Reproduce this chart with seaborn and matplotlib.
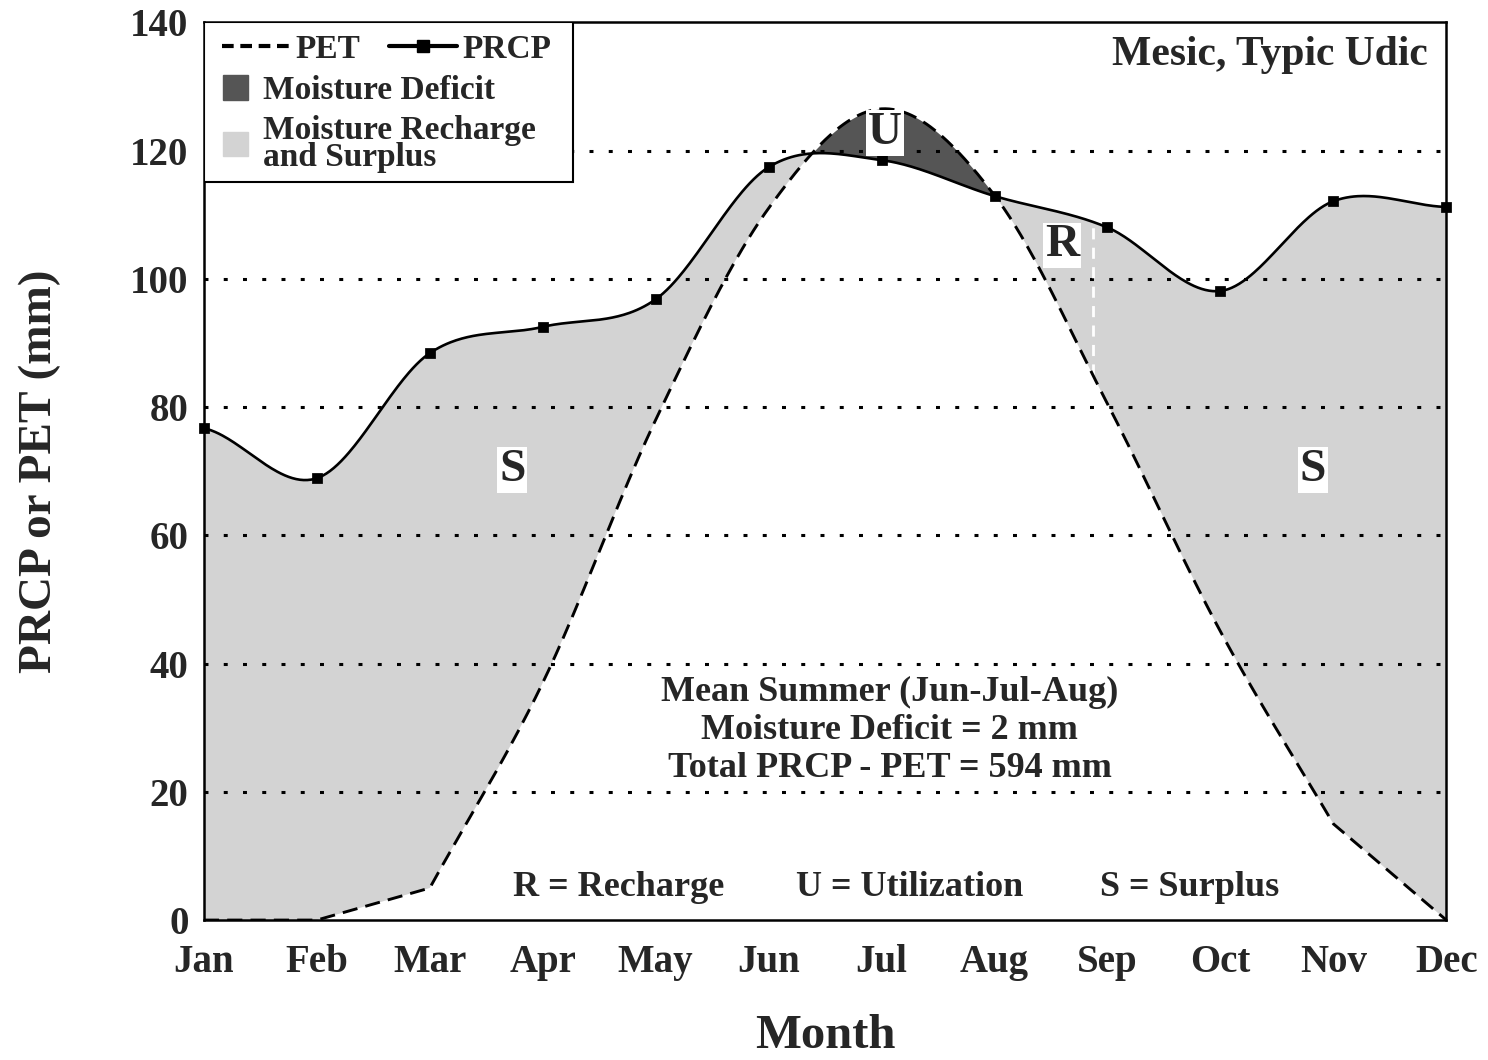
import numpy as np
import pandas as pd
import matplotlib
matplotlib.use("Agg")
import matplotlib.pyplot as plt
from matplotlib.lines import Line2D
from matplotlib.patches import Patch, Rectangle
import seaborn as sns

months = ["Jan", "Feb", "Mar", "Apr", "May", "Jun", "Jul", "Aug", "Sep", "Oct", "Nov", "Dec"]
prcp = [76.7, 68.9, 88.4, 92.5, 96.8, 117.4, 118.5, 112.9, 108.0, 98.1, 112.1, 111.2]
pet = [0.0, 0.0, 5.0, 37.0, 78.0, 111.0, 126.5, 113.0, 80.5, 45.0, 15.0, 0.0]
recharge_end = 7.87  # month position where recharge turns to surplus
y_ticks = [0, 20, 40, 60, 80, 100, 120, 140]


def smooth(vals, kinks=(), n=60):
    # Hermite curve through the monthly values, Catmull-Rom tangents,
    # one-sided tangents at the "kink" points and at both ends
    v = np.asarray(vals, dtype=float)
    d = np.diff(v)
    k = len(v)
    left = np.zeros(k)
    right = np.zeros(k)
    for i in range(k):
        if i == 0:
            left[i] = right[i] = d[0] if 0 in kinks else d[0] / 2
        elif i == k - 1:
            left[i] = right[i] = d[-1] if i in kinks else d[-1] / 2
        elif i in kinks:
            left[i], right[i] = d[i - 1], d[i]
        else:
            left[i] = right[i] = 0.5 * (d[i - 1] + d[i])
    xs, ys = [], []
    t = np.linspace(0, 1, n, endpoint=False)
    h00 = 2 * t ** 3 - 3 * t ** 2 + 1
    h10 = t ** 3 - 2 * t ** 2 + t
    h01 = -2 * t ** 3 + 3 * t ** 2
    h11 = t ** 3 - t ** 2
    for i in range(k - 1):
        ys.append(h00 * v[i] + h10 * right[i] + h01 * v[i + 1] + h11 * left[i + 1])
        xs.append(i + t)
    xs.append([k - 1])
    ys.append([v[-1]])
    return np.concatenate(xs), np.concatenate(ys)


xs, prcp_s = smooth(prcp)
_, pet_s = smooth(pet, kinks=(0, 1, 2, 10, 11))
pet_s = np.clip(pet_s, 0, None)
curves = pd.DataFrame({"x": xs, "PRCP": prcp_s, "PET": pet_s})
pts = pd.DataFrame({"x": np.arange(len(months)), "PRCP": prcp})

sns.set_style("white")
plt.rcParams["font.family"] = ["Liberation Serif", "DejaVu Serif"]
plt.rcParams["font.weight"] = "bold"

fig = plt.figure(figsize=(14.88, 10.6), dpi=100)
ax = fig.add_axes([0.137, 0.132, 0.835, 0.847])

light = "#d3d3d3"
dark = "#555555"
ax.fill_between(curves["x"], curves["PET"], curves["PRCP"], where=curves["PRCP"] >= curves["PET"],
                interpolate=True, color=light, lw=0, zorder=1)
ax.fill_between(curves["x"], curves["PET"], curves["PRCP"], where=curves["PET"] > curves["PRCP"],
                interpolate=True, color=dark, lw=0, zorder=1)

for y in y_ticks[1:-1]:
    ax.axhline(y, color="black", lw=2.2, ls=(0, (1.3, 5.0)), zorder=2)

sns.lineplot(data=curves, x="x", y="PET", ax=ax, color="black", lw=2.1,
             linestyle=(0, (5.2, 2.8)), zorder=4, sort=False, estimator=None)
sns.lineplot(data=curves, x="x", y="PRCP", ax=ax, color="black", lw=1.9, zorder=4,
             sort=False, estimator=None)
sns.scatterplot(data=pts, x="x", y="PRCP", ax=ax, marker="s", s=45, color="black",
                edgecolor="black", zorder=5, clip_on=False)

# boundary between recharge and surplus
yb0 = np.interp(recharge_end, xs, pet_s)
yb1 = np.interp(recharge_end, xs, prcp_s)
ax.plot([recharge_end, recharge_end], [yb0, yb1], color="white", lw=2, ls=(0, (4, 3)), zorder=3)

ax.set_xlim(0, 11)
ax.set_ylim(0, 140)
ax.set_xticks(range(len(months)))
ax.set_xticklabels(months)
ax.set_yticks(y_ticks)
ax.tick_params(axis="both", length=0, labelsize=28)
ax.tick_params(axis="x", pad=17)
ax.tick_params(axis="y", pad=11)
for s in ax.spines.values():
    s.set_color("black")
    s.set_linewidth(1.8)
ax.set_xlabel("Month", fontsize=35, fontweight="bold", labelpad=24)
ax.set_ylabel("PRCP or PET (mm)", fontsize=34, fontweight="bold", labelpad=50)

box = dict(facecolor="white", edgecolor="none", pad=1.5)
for lx, ly, lab in [(2.73, 70.2, "S"), (9.82, 70.2, "S"), (6.03, 122.7, "U"), (7.6, 105.2, "R")]:
    ax.text(lx, ly, lab, fontsize=34, fontweight="bold", ha="center", va="center", bbox=box, zorder=6)

ax.text(0.985, 0.963, "Mesic, Typic Udic", transform=ax.transAxes, fontsize=30,
        fontweight="bold", ha="right", va="center")
summary = ["Mean Summer (Jun-Jul-Aug)", "Moisture Deficit = 2 mm", "Total PRCP - PET = 594 mm"]
for ly, line in zip([35.5, 29.6, 23.7], summary):
    ax.text(6.07, ly, line, fontsize=26, fontweight="bold", ha="center", va="center")
for lx, line in zip([3.67, 6.25, 8.73], ["R = Recharge", "U = Utilization", "S = Surplus"]):
    ax.text(lx, 5.1, line, fontsize=26, fontweight="bold", ha="center", va="center")

# legend: box with PET/PRCP on one row, then the two fills
ax.add_patch(Rectangle((0, 0.822), 0.297, 0.178, transform=ax.transAxes, facecolor="white",
                       edgecolor="black", lw=1.5, zorder=7))
line_handles = [Line2D([], [], color="black", lw=3, ls=(0, (2.8, 1.6))),
                Line2D([], [], color="black", lw=3, marker="s", markersize=8)]
leg1 = ax.legend(line_handles, ["PET", "PRCP"], ncol=2, loc="upper left",
                 bbox_to_anchor=(-0.004, 1.013), frameon=False, handlelength=2.05,
                 handletextpad=0.15, columnspacing=0.85, borderaxespad=0.3,
                 prop={"weight": "bold", "size": 24})
leg1.set_zorder(8)
ax.add_artist(leg1)
patch_handles = [Patch(color=dark), Patch(color=light)]
leg2 = ax.legend(patch_handles, ["Moisture Deficit", "Moisture Recharge\nand Surplus"],
                 loc="upper left", bbox_to_anchor=(-0.003, 0.967), frameon=False,
                 handlelength=0.75, handleheight=0.75, handletextpad=0.45, labelspacing=0.25,
                 borderaxespad=0.3, prop={"weight": "bold", "size": 24})
leg2.set_zorder(8)
for t in leg2.get_texts():
    t.set_linespacing(0.85)

fig.savefig("out.png", dpi=100)
